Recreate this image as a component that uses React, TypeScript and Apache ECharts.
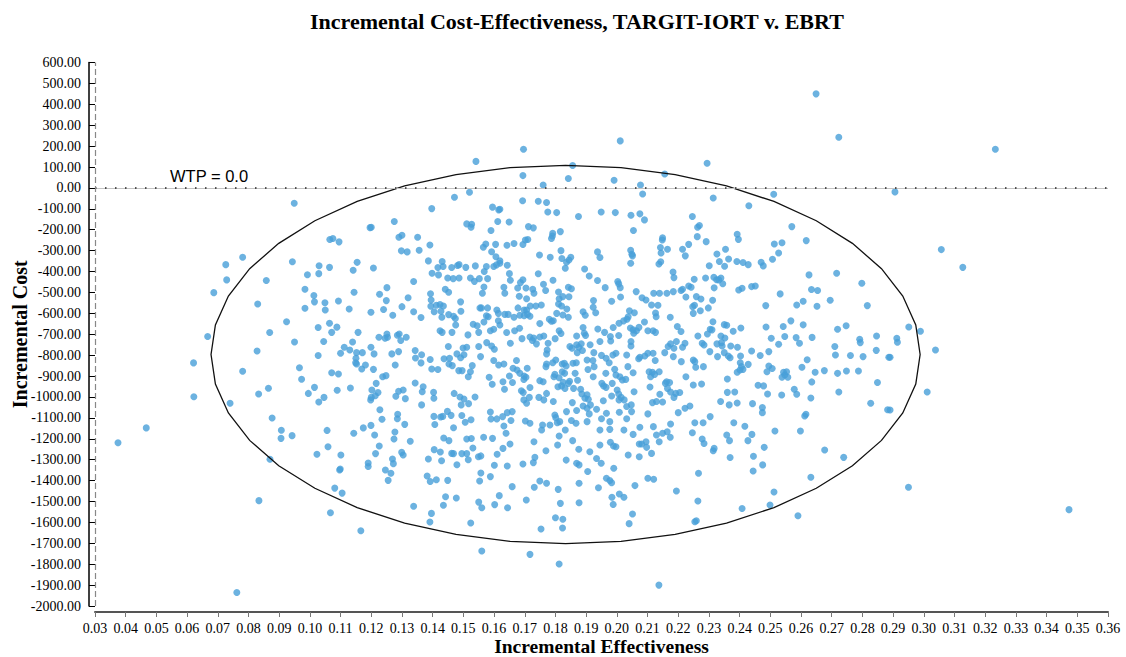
import React, { useEffect, useRef } from 'react';
import * as echarts from 'echarts';

const chartTitle = 'Incremental Cost-Effectiveness, TARGIT-IORT v. EBRT';
const xAxisName = 'Incremental Effectiveness';
const yAxisName = 'Incremental Cost';
const wtpLabel = 'WTP = 0.0';
const wtpValue = 0;

// ellipse: [centre effectiveness, centre cost, radius effectiveness, radius cost]
const ellipseParams = [[0.1833, -797, 0.1155, 905]];

const pointsFarLeft = [
  [0.0949, -73], [0.0781, -332], [0.0726, -367], [0.0729, -440], [0.0687, -501], [0.0943, -353], [0.0858, -443],
  [0.083, -555], [0.0924, -640], [0.0869, -692], [0.0667, -711],
  [0.095, -737], [0.0828, -780], [0.0621, -837], [0.0781, -877], [0.0966, -860], [0.0973, -915], [0.0865, -958],
  [0.0833, -986], [0.0622, -999], [0.074, -1030], [0.0877, -1101], [0.0467, -1148], [0.0375, -1219], [0.0907, -1159],
  [0.0906, -1198], [0.0942, -1185], [0.087, -1298], [0.0834, -1496], [0.0762, -1935],
];

const pointsUpperLeft = [
  [0.1541, 127], [0.1471, -45], [0.152, -21], [0.1397, -99], [0.1595, -92], [0.1615, -105], [0.1275, -161], [0.1196, -190],
  [0.12, -188], [0.1511, -172], [0.1527, -174], [0.1525, -188], [0.159, -204], [0.1612, -161], [0.129, -236], [0.13, -226],
  [0.1351, -236], [0.1065, -247], [0.1075, -242], [0.1095, -258], [0.1391, -273], [0.1298, -301], [0.1317, -306],
  [0.1356, -298], [0.1565, -284], [0.1573, -268], [0.1592, -305], [0.1605, -270], [0.1606, -329], [0.1386, -349],
  [0.1431, -352], [0.1434, -376], [0.1417, -381], [0.1419, -416], [0.1398, -408], [0.1462, -381], [0.1467, -434],
  [0.1481, -371], [0.1486, -367], [0.1508, -380], [0.1539, -373], [0.1568, -400], [0.1575, -376], [0.1599, -376],
  [0.1608, -368], [0.1619, -360], [0.1449, -431], [0.1486, -431], [0.1523, -431], [0.1536, -447], [0.1552, -434],
  [0.1579, -434], [0.1567, -474], [0.1562, -504], [0.103, -372], [0.1029, -410], [0.1064, -380], [0.0992, -415],
  [0.1154, -356], [0.1141, -394], [0.1207, -383], [0.1338, -448], [0.0984, -485], [0.1013, -515], [0.1015, -545],
  [0.1049, -549], [0.105, -584], [0.1093, -541], [0.1144, -499], [0.1227, -509], [0.1251, -477], [0.1249, -539],
  [0.132, -525], [0.1393, -506], [0.1395, -536], [0.1441, -485], [0.1452, -499], [0.1491, -545], [0.1394, -566],
  [0.1412, -561], [0.1424, -558], [0.1435, -565], [0.1427, -590], [0.1405, -592], [0.143, -619], [0.1452, -606],
  [0.1468, -614], [0.1474, -625], [0.1492, -590], [0.1554, -574], [0.1559, -574], [0.1579, -574], [0.1609, -584],
  [0.1614, -600], [0.0984, -576], [0.1128, -579], [0.1199, -595], [0.124, -582], [0.13, -568], [0.127, -609],
  [0.1338, -592], [0.1362, -620], [0.1027, -668], [0.1064, -647], [0.1071, -691], [0.1088, -666], [0.1157, -691],
  [0.1225, -714], [0.1251, -699], [0.1253, -714], [0.1245, -719], [0.1285, -705], [0.1291, -699], [0.1314, -714],
  [0.1431, -691], [0.1424, -683], [0.1463, -691], [0.1475, -656], [0.1515, -703], [0.1532, -652], [0.1545, -659],
  [0.155, -691], [0.1567, -641], [0.1575, -612], [0.1581, -616], [0.1588, -683], [0.1599, -676], [0.1614, -635],
  [0.1619, -656],
];

const pointsUpperCentre = [
  [0.1696, 185], [0.2011, 225], [0.1856, 107], [0.1694, 59], [0.1842, 45], [0.176, 14], [0.1991, 37], [0.2077, 14],
  [0.2084, -29], [0.2156, 67], [0.1693, -61], [0.1744, -64], [0.1771, -70], [0.1775, -115], [0.1804, -118],
  [0.1875, -137], [0.1949, -115], [0.1995, -118], [0.2046, -131], [0.2075, -124], [0.209, -153], [0.2246, -137],
  [0.1619, -102], [0.1649, -163], [0.1712, -185], [0.1728, -191], [0.1791, -217], [0.179, -230], [0.1787, -242],
  [0.1816, -209], [0.2054, -204], [0.1642, -274], [0.1665, -266], [0.1694, -271], [0.1702, -249], [0.171, -247],
  [0.1748, -321], [0.1783, -332], [0.1818, -300], [0.1821, -338], [0.1836, -356], [0.1844, -345], [0.185, -332],
  [0.1832, -384], [0.1937, -306], [0.1945, -333], [0.2045, -298], [0.2049, -317], [0.2051, -325], [0.2045, -360],
  [0.2149, -239], [0.2148, -249], [0.2142, -285], [0.2144, -311], [0.2143, -353], [0.2137, -364], [0.2165, -293],
  [0.2214, -293], [0.2223, -325], [0.2234, -270], [0.1619, -348], [0.1643, -370], [0.165, -410], [0.1653, -442],
  [0.1632, -475], [0.1635, -504], [0.1677, -479], [0.1686, -453], [0.1694, -439], [0.1704, -479], [0.1682, -518],
  [0.1726, -485], [0.173, -504], [0.1706, -530], [0.1744, -411], [0.1761, -461], [0.1768, -491], [0.1792, -442],
  [0.181, -498], [0.1812, -530], [0.1824, -520], [0.1844, -521], [0.1842, -475], [0.1852, -482], [0.1895, -388],
  [0.191, -421], [0.1937, -443], [0.1962, -477], [0.2003, -448], [0.2006, -459], [0.2011, -477], [0.2012, -522],
  [0.1983, -542], [0.2063, -496], [0.2082, -525], [0.2095, -536], [0.212, -504], [0.2139, -504], [0.2163, -504],
  [0.2184, -496], [0.2209, -491], [0.2214, -485], [0.2186, -429], [0.2183, -402], [0.2234, -469], [0.2242, -475],
  [0.2252, -437], [0.2225, -522], [0.2247, -568], [0.2113, -560], [0.2134, -561], [0.1924, -539], [0.1931, -597],
  [0.1923, -571], [0.189, -592], [0.1897, -609], [0.1837, -579], [0.1824, -608], [0.1842, -619], [0.1804, -600],
  [0.182, -565], [0.181, -555], [0.178, -628], [0.1787, -638], [0.1793, -635], [0.1754, -560], [0.1736, -565],
  [0.1718, -565], [0.1706, -584], [0.1698, -584], [0.1684, -609], [0.1698, -611], [0.1709, -605], [0.1717, -614],
  [0.1678, -574], [0.1665, -619], [0.1635, -605], [0.1646, -605], [0.1749, -649], [0.1667, -683], [0.1683, -671],
  [0.1641, -692], [0.1812, -683], [0.1818, -696], [0.189, -668], [0.1894, -695], [0.1898, -706], [0.1938, -675],
  [0.196, -691], [0.1979, -711], [0.1988, -668], [0.2007, -647], [0.2022, -636], [0.2033, -628], [0.2037, -616],
  [0.2006, -706], [0.2041, -588], [0.2057, -597], [0.2044, -670], [0.2053, -679], [0.2064, -683], [0.2055, -695],
  [0.2072, -667], [0.209, -641], [0.2101, -683], [0.2118, -683], [0.2126, -691], [0.2126, -598], [0.2128, -616],
  [0.2174, -619], [0.2197, -663], [0.2209, -687], [0.2249, -600], [0.2253, -561], [0.1717, -713], [0.1729, -718],
  [0.1749, -713], [0.1762, -708], [0.1691, -721], [0.1799, -721], [0.1869, -708],
];

const pointsUpperRight = [
  [0.2649, 450], [0.2723, 242], [0.2294, 118], [0.2314, -48], [0.2511, -30], [0.243, -85], [0.257, -185],
  [0.2269, -180], [0.2263, -188], [0.2262, -233], [0.2291, -257], [0.2392, -222], [0.2396, -246], [0.2513, -268],
  [0.2538, -262], [0.2527, -311], [0.2507, -341], [0.2617, -252], [0.2326, -316], [0.2354, -293], [0.2301, -372],
  [0.2334, -352], [0.2351, -375], [0.2364, -340], [0.2391, -352], [0.2411, -357], [0.2428, -367], [0.247, -356],
  [0.2477, -373], [0.2626, -416], [0.2716, -408], [0.2798, -456], [0.2289, -431], [0.2316, -427], [0.2325, -439],
  [0.2332, -440], [0.2339, -431], [0.2345, -458], [0.2317, -478], [0.2397, -488], [0.2408, -480], [0.2439, -472],
  [0.2451, -469], [0.2634, -486], [0.2654, -491], [0.2532, -507], [0.2259, -520], [0.2274, -531], [0.2312, -537],
  [0.2272, -588], [0.2298, -574], [0.2485, -563], [0.2586, -560], [0.2607, -542], [0.2652, -566], [0.2695, -537],
  [0.2816, -563], [0.2313, -640], [0.235, -654], [0.2358, -657], [0.2304, -676], [0.231, -679], [0.2295, -699],
  [0.2264, -708], [0.2339, -708], [0.2352, -718], [0.2379, -686], [0.2404, -670], [0.2486, -665], [0.2503, -719],
  [0.2542, -663], [0.2547, -711], [0.2567, -636], [0.2584, -716], [0.2607, -655], [0.2636, -715], [0.2719, -676],
  [0.2747, -659], [0.2846, -708], [0.2791, -724],
];

const pointsFarRight = [
  [0.3233, 185], [0.2906, -19], [0.3057, -295], [0.3127, -380], [0.2951, -665], [0.2989, -686], [0.2912, -719],
  [0.2914, -738], [0.289, -810], [0.3038, -775], [0.3011, -976], [0.289, -1062], [0.295, -1432], [0.3473, -1539],
];

const pointsLowerLeft = [
  [0.1045, -735], [0.1027, -802], [0.11, -791], [0.1112, -762], [0.113, -775], [0.1139, -737], [0.1152, -788],
  [0.1171, -788], [0.115, -815], [0.1149, -836], [0.1152, -842], [0.1181, -847], [0.1169, -866], [0.1199, -762],
  [0.1209, -794], [0.1207, -868], [0.1267, -794], [0.1289, -783], [0.1278, -847], [0.1296, -730], [0.1343, -778],
  [0.1364, -798], [0.1344, -814], [0.1362, -837], [0.1392, -821], [0.1397, -866], [0.1417, -869], [0.1437, -817],
  [0.1455, -815], [0.1453, -842], [0.1464, -850], [0.1451, -759], [0.1479, -794], [0.1491, -812], [0.1502, -798],
  [0.1499, -766], [0.1511, -762], [0.1485, -874], [0.1496, -874], [0.1523, -879], [0.1516, -903], [0.1529, -850],
  [0.155, -759], [0.1556, -807], [0.1576, -740], [0.1592, -756], [0.1601, -772], [0.1599, -826], [0.1615, -847],
  [0.1584, -906], [0.1594, -939], [0.1071, -884], [0.1093, -890], [0.1015, -954], [0.0995, -983], [0.1029, -1024],
  [0.1046, -1002], [0.1089, -968], [0.1132, -957], [0.1216, -935], [0.1237, -903], [0.1248, -898], [0.1202, -967],
  [0.1222, -979], [0.1213, -994], [0.1198, -1014], [0.12, -1002], [0.1289, -973], [0.1304, -967], [0.128, -997],
  [0.1311, -1008], [0.1343, -933], [0.1369, -951], [0.1366, -975], [0.1364, -1038], [0.1403, -978], [0.1404, -1006],
  [0.147, -983], [0.1489, -1000], [0.1502, -1010], [0.1493, -1038], [0.1517, -1032], [0.1538, -1000], [0.1228, -1061],
  [0.1235, -1107], [0.1286, -1083], [0.1285, -1104], [0.1309, -1131], [0.1277, -1168], [0.1274, -1201], [0.1327, -1212],
  [0.1174, -1148], [0.1199, -1136], [0.1211, -1182], [0.1143, -1174], [0.1056, -1160], [0.1059, -1238], [0.1023, -1274],
  [0.1101, -1278], [0.1097, -1349], [0.1099, -1345], [0.1226, -1235], [0.1214, -1271], [0.119, -1316], [0.119, -1333],
  [0.1246, -1349], [0.1264, -1365], [0.1255, -1399], [0.1269, -1297], [0.1272, -1319], [0.1299, -1265], [0.1304, -1278],
  [0.1081, -1436], [0.1105, -1460], [0.1067, -1554], [0.1166, -1640], [0.1338, -1523], [0.1396, -1557], [0.1391, -1598],
  [0.1382, -1378], [0.1392, -1404], [0.1412, -1396], [0.1449, -1399], [0.1386, -1297], [0.1405, -1252], [0.1425, -1263],
  [0.1429, -1305], [0.1404, -1093], [0.1407, -1132], [0.1426, -1096], [0.1433, -1093], [0.1448, -1069], [0.146, -1088],
  [0.1468, -1147], [0.1436, -1196], [0.1453, -1209], [0.1495, -1089], [0.1506, -1121], [0.1525, -1109], [0.1511, -1201],
  [0.1526, -1199], [0.1531, -1244], [0.1516, -1300], [0.1495, -1271], [0.1511, -1271], [0.1462, -1270], [0.1468, -1271],
  [0.1479, -1324], [0.1566, -1193], [0.1595, -1198], [0.1588, -1072], [0.1609, -1105], [0.159, -1105], [0.1549, -1286],
  [0.1557, -1282], [0.161, -1274], [0.1601, -1327], [0.1557, -1364], [0.1588, -1381], [0.1553, -1402], [0.1442, -1477],
  [0.1435, -1518], [0.1477, -1483], [0.155, -1503], [0.156, -1530], [0.1524, -1603], [0.1602, -1515], [0.1617, -1472],
  [0.156, -1737],
];

const pointsLowerCentre = [
  [0.1653, -743], [0.1725, -730], [0.1738, -746], [0.1776, -743], [0.1773, -775], [0.1771, -794], [0.1847, -759],
  [0.1854, -767], [0.1869, -750], [0.1876, -762], [0.1884, -746], [0.1888, -778], [0.1871, -788], [0.1913, -750],
  [0.1925, -788], [0.1945, -735], [0.198, -732], [0.1997, -791], [0.1987, -799], [0.2032, -799], [0.2046, -756],
  [0.2046, -735], [0.2075, -810], [0.2091, -804], [0.2101, -791], [0.2118, -791], [0.2125, -826], [0.2156, -788],
  [0.2167, -759], [0.2175, -746], [0.2186, -767], [0.2194, -735], [0.2214, -762], [0.2222, -743], [0.2184, -807],
  [0.2249, -823],
  [0.1632, -842], [0.1673, -826], [0.1662, -863], [0.1675, -871], [0.165, -900], [0.1684, -887], [0.1698, -900],
  [0.1708, -863], [0.1704, -906], [0.1629, -927], [0.166, -931], [0.1697, -916], [0.1771, -842], [0.1769, -855],
  [0.1791, -836], [0.1801, -823], [0.1822, -842], [0.1829, -839], [0.1835, -852], [0.1822, -879], [0.1798, -892],
  [0.1795, -903], [0.1812, -908], [0.183, -887], [0.1857, -839], [0.1868, -836], [0.1864, -887], [0.1903, -823],
  [0.1922, -826], [0.1926, -855], [0.1906, -869], [0.1923, -903], [0.195, -801], [0.1965, -815], [0.1975, -836],
  [0.1964, -887], [0.1993, -868], [0.1997, -895], [0.201, -903], [0.2018, -919], [0.2029, -916], [0.2036, -855],
  [0.2053, -884], [0.2071, -817], [0.2105, -879], [0.2116, -882], [0.2123, -892], [0.2138, -879], [0.211, -903],
  [0.2162, -927], [0.2158, -935], [0.2172, -931], [0.221, -831], [0.2225, -903], [0.2249, -943], [0.1749, -922],
  [0.176, -927], [0.1825, -930], [0.1846, -925], [0.1872, -920],
  [0.1634, -963], [0.1689, -970], [0.1695, -979], [0.1717, -955], [0.1715, -1002], [0.1697, -1014], [0.1706, -1030],
  [0.1746, -1002], [0.1762, -1014], [0.1771, -983], [0.1793, -1022], [0.1808, -951], [0.182, -947], [0.1831, -959],
  [0.1842, -935], [0.1859, -959], [0.1882, -963], [0.1886, -986], [0.1896, -1006], [0.1903, -990], [0.1907, -1011],
  [0.1951, -935], [0.1957, -947], [0.1965, -954], [0.1956, -1018], [0.1985, -935], [0.2001, -967], [0.2006, -986],
  [0.2014, -1002], [0.2024, -1014], [0.2032, -1046], [0.2047, -1038], [0.2056, -975], [0.2007, -1014], [0.1983, -995],
  [0.2108, -952], [0.214, -987], [0.2165, -959], [0.2175, -976], [0.2192, -983], [0.2205, -979], [0.2186, -1002],
  [0.2116, -1027], [0.2129, -1022], [0.2149, -1024], [0.2101, -1081], [0.2222, -1054], [0.2238, -1043],
  [0.1628, -1094], [0.1643, -1075], [0.1659, -1070], [0.1655, -1113], [0.1632, -1139], [0.1639, -1174], [0.1702, -1115],
  [0.1717, -1126], [0.173, -1214], [0.1758, -1134], [0.1755, -1158], [0.1782, -1134], [0.1798, -1086], [0.1801, -1099],
  [0.1806, -1123], [0.1814, -1118], [0.1832, -1158], [0.1836, -1070], [0.1855, -1027], [0.1852, -1113], [0.1867, -1126],
  [0.1869, -1065], [0.189, -1043], [0.1903, -1054], [0.191, -1081], [0.1903, -1118], [0.1914, -1038], [0.1934, -1059],
  [0.1945, -1158], [0.195, -1104], [0.1966, -1078], [0.1977, -1118], [0.1977, -1155], [0.2008, -1073], [0.2023, -1158],
  [0.2032, -1104], [0.2048, -1070], [0.2053, -1179], [0.2075, -1145], [0.2081, -1225], [0.2095, -1214], [0.2119, -1142],
  [0.2129, -1182], [0.2138, -1214], [0.2149, -1174], [0.2164, -1166], [0.2174, -1193], [0.2175, -1129], [0.22, -1075],
  [0.2246, -1171],
  [0.1629, -1246], [0.1652, -1225], [0.1643, -1330], [0.1694, -1321], [0.1728, -1314], [0.1733, -1289], [0.1769, -1257],
  [0.1807, -1230], [0.1812, -1187], [0.1835, -1302], [0.1856, -1209], [0.1869, -1317], [0.1876, -1250], [0.1877, -1325],
  [0.1905, -1357], [0.1912, -1262], [0.1934, -1294], [0.1945, -1230], [0.1949, -1317], [0.1979, -1217], [0.1989, -1235],
  [0.1997, -1238], [0.199, -1341], [0.2037, -1278], [0.2073, -1286], [0.2073, -1225], [0.2097, -1241], [0.2113, -1270],
  [0.1659, -1429], [0.1731, -1432], [0.1749, -1402], [0.1771, -1413], [0.1809, -1442], [0.1816, -1509], [0.1877, -1413],
  [0.1877, -1506], [0.194, -1434], [0.1966, -1389], [0.1977, -1400], [0.1983, -1410], [0.1984, -1480], [0.1988, -1514],
  [0.2008, -1464], [0.2023, -1480], [0.2059, -1424], [0.2101, -1389], [0.212, -1394], [0.2194, -1450], [0.1644, -1530],
  [0.1705, -1493], [0.18, -1578], [0.1824, -1585], [0.1823, -1627], [0.1753, -1632], [0.2051, -1560], [0.204, -1606],
  [0.2254, -1597], [0.1717, -1753], [0.1812, -1799], [0.2137, -1900],
];

const pointsLowerRight = [
  [0.2278, -743], [0.2284, -751], [0.2326, -746], [0.2341, -740], [0.2343, -756], [0.2371, -756], [0.2393, -762],
  [0.2303, -783], [0.2328, -807], [0.235, -788], [0.2363, -804], [0.2369, -812], [0.2403, -804], [0.2439, -780],
  [0.2467, -802], [0.2495, -783], [0.2527, -748], [0.2595, -743], [0.271, -759], [0.2712, -799], [0.2761, -802],
  [0.2793, -740], [0.2802, -807], [0.2845, -777], [0.2886, -810], [0.2254, -831], [0.2257, -858], [0.2282, -855],
  [0.2402, -836], [0.2406, -855], [0.2428, -844], [0.2392, -882], [0.2401, -871], [0.2411, -868], [0.2495, -852],
  [0.2506, -864], [0.2489, -879], [0.2543, -882], [0.2553, -879], [0.2547, -895], [0.2557, -906], [0.2538, -906],
  [0.2603, -858], [0.262, -822], [0.2646, -882], [0.2676, -874], [0.2719, -887], [0.2748, -876], [0.2787, -876],
  [0.236, -914], [0.2276, -938], [0.246, -944], [0.2478, -947], [0.2491, -986], [0.2537, -991], [0.2578, -963],
  [0.2586, -987], [0.2635, -928], [0.2632, -1005], [0.2723, -976], [0.2849, -931], [0.2827, -1030], [0.2882, -1061],
  [0.236, -978], [0.2384, -976], [0.2338, -1022], [0.2366, -1038], [0.2392, -1029], [0.2442, -1032], [0.2474, -1051],
  [0.2474, -1075], [0.2612, -1091], [0.2616, -1083], [0.2304, -1094], [0.2254, -1123], [0.2281, -1123], [0.2381, -1123],
  [0.2417, -1140], [0.2515, -1163], [0.2598, -1163], [0.2358, -1182], [0.2367, -1209], [0.244, -1179], [0.2427, -1209],
  [0.2278, -1201], [0.2284, -1223], [0.2317, -1246], [0.2314, -1257], [0.248, -1241], [0.2369, -1290], [0.2445, -1284],
  [0.2475, -1325], [0.2444, -1354], [0.2677, -1254], [0.2739, -1289], [0.2266, -1365], [0.2632, -1384], [0.2512, -1455],
  [0.2264, -1498], [0.2408, -1534], [0.2499, -1517], [0.2259, -1592], [0.259, -1568],
];

const serif = '"Times New Roman", "Liberation Serif", Times, serif';

const renderEllipse = (params: any, api: any) => {
  const cx = api.value(0);
  const cy = api.value(1);
  const rx = api.value(2);
  const ry = api.value(3);
  const n = 40;
  const pts: number[][] = [];
  for (let i = 0; i < n; i++) {
    const t = (i / n) * Math.PI * 2;
    pts.push(api.coord([cx + rx * Math.cos(t), cy + ry * Math.sin(t)]));
  }
  return {
    type: 'polygon',
    shape: { points: pts },
    style: { fill: 'none', stroke: '#111', lineWidth: 1.3 },
  };
};

export default function App() {
  const ref = useRef<HTMLDivElement>(null);
  useEffect(() => {
    if (!ref.current) return;
    const chart = echarts.init(ref.current, null, { renderer: 'svg' });
    const allPoints = [
      ...pointsFarLeft,
      ...pointsUpperLeft,
      ...pointsUpperCentre,
      ...pointsUpperRight,
      ...pointsFarRight,
      ...pointsLowerLeft,
      ...pointsLowerCentre,
      ...pointsLowerRight,
    ];
    chart.setOption({
      animation: false,
      backgroundColor: '#ffffff',
      title: {
        text: chartTitle,
        left: 305,
        top: 5,
        textStyle: { fontFamily: serif, fontWeight: 'bold', fontSize: 22, color: '#000' },
      },
      grid: {
        left: 95,
        right: 18,
        top: 62.5,
        bottom: 51,
        containLabel: false,
        outerBoundsMode: 'none',
      },
      xAxis: {
        type: 'value',
        min: 0.03,
        max: 0.36,
        interval: 0.01,
        offset: 6,
        name: xAxisName,
        nameLocation: 'middle',
        nameGap: 24,
        nameMoveOverlap: false,
        nameTextStyle: { fontFamily: serif, fontWeight: 'bold', fontSize: 19.5, color: '#000' },
        axisLine: { onZero: false, lineStyle: { color: '#555', width: 2 } },
        axisTick: { show: true, length: 5, lineStyle: { color: '#777' } },
        axisLabel: {
          margin: 9,
          fontFamily: serif,
          fontSize: 14,
          color: '#000',
          formatter: (v: number) => v.toFixed(2),
        },
        splitLine: { show: false },
      },
      yAxis: {
        type: 'value',
        min: -2000,
        max: 600,
        interval: 100,
        offset: 6,
        name: yAxisName,
        nameLocation: 'middle',
        nameGap: 59,
        nameMoveOverlap: false,
        nameTextStyle: { fontFamily: serif, fontWeight: 'bold', fontSize: 20, color: '#000' },
        axisLine: { show: true, onZero: false, lineStyle: { color: '#000', width: 1.5 } },
        axisTick: { show: true, inside: true, length: 6, lineStyle: { color: '#000' } },
        axisLabel: {
          margin: 8,
          fontFamily: serif,
          fontSize: 14,
          color: '#000',
          formatter: (v: number) => v.toFixed(2),
        },
        splitLine: { show: false },
      },
      series: [
        {
          type: 'scatter',
          data: allPoints,
          symbol: 'circle',
          symbolSize: 7,
          itemStyle: { color: '#479fd8' },
          z: 2,
          markLine: {
            silent: true,
            symbol: 'none',
            label: { show: false },
            data: [
              { yAxis: wtpValue, lineStyle: { color: '#c4c4c4', type: 'solid', width: 1 } },
              { yAxis: wtpValue, lineStyle: { color: '#222', type: [1.5, 8.5], width: 1.6 } },
              { xAxis: 0.03, lineStyle: { color: '#888', type: [6, 3], width: 1.2 } },
            ],
          },
        },
        {
          type: 'custom',
          renderItem: renderEllipse,
          data: ellipseParams,
          encode: { x: 0, y: 1 },
          clip: false,
          silent: true,
          z: 3,
        },
      ],
      graphic: [
        {
          type: 'text',
          left: 170,
          top: 167,
          style: {
            text: wtpLabel,
            font: '16.5px "Liberation Sans", Arial, Helvetica, sans-serif',
            fill: '#000',
          },
        },
      ],
    });
    return () => chart.dispose();
  }, []);
  return (
    <div
      ref={ref}
      style={{ position: 'fixed', left: 0, top: 0, width: 1126, height: 657, background: '#fff' }}
    />
  );
}
